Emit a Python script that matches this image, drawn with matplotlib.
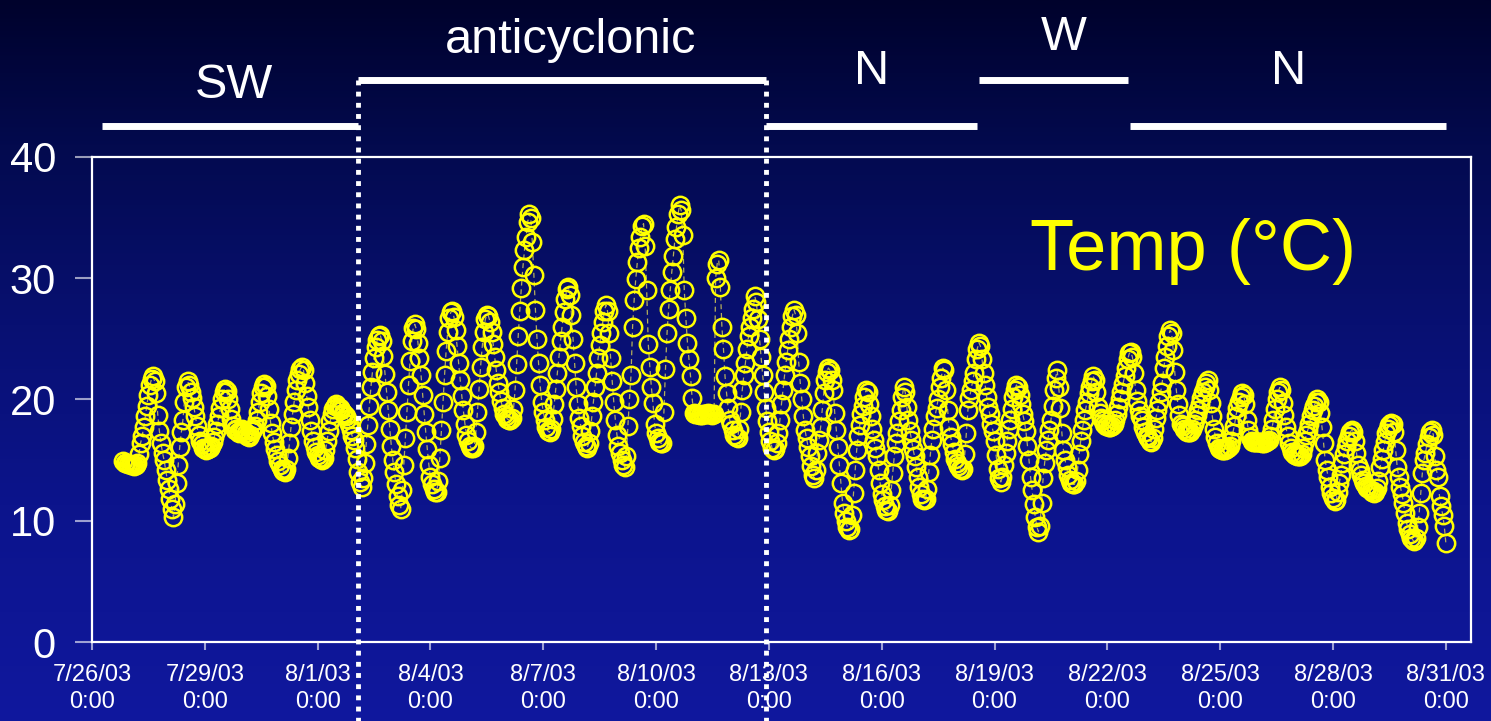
import datetime as dt
import numpy as np
import matplotlib
matplotlib.use("Agg")
import matplotlib.pyplot as plt
import matplotlib.dates as mdates
import matplotlib.transforms as mtransforms

plt.rcParams['font.family'] = ['Liberation Sans', 'DejaVu Sans']

# hourly temperature (deg C), first reading 7/26/03 20:00, one row per day
first_reading = dt.datetime(2003, 7, 26, 20)
hourly_temp = [
    [14.9, 14.8, 14.8, 14.7],  # 7/26 20h-23h
    [14.7, 14.6, 14.6, 14.5, 14.6, 14.8, 15.5, 16.4, 17.0, 17.7, 18.6, 19.5, 20.4, 21.2, 21.7, 21.9, 21.5, 20.5, 18.7, 17.4, 16.4, 15.6, 15.0, 14.2],
    [13.4, 12.6, 11.8, 11.0, 10.3, 11.4, 13.1, 14.6, 16.1, 17.3, 18.3, 19.8, 21.0, 21.5, 21.2, 20.6, 20.1, 19.4, 18.6, 17.8, 17.1, 16.6, 16.3, 16.0],
    [15.9, 15.8, 15.9, 16.0, 16.2, 16.5, 16.9, 17.4, 18.0, 18.6, 19.3, 20.0, 20.6, 20.9, 20.7, 20.0, 19.2, 18.4, 17.8, 17.5, 17.6, 17.3, 17.2, 17.5],
    [17.6, 17.4, 17.2, 17.0, 16.9, 17.1, 17.4, 17.6, 17.8, 18.3, 19.0, 19.8, 20.5, 21.0, 21.3, 21.1, 20.3, 19.2, 18.1, 17.2, 16.5, 15.9, 15.4, 14.9],
    [14.6, 14.3, 14.1, 14.0, 14.3, 15.2, 16.4, 17.7, 18.8, 19.8, 20.8, 21.6, 22.1, 22.5, 22.7, 22.4, 21.4, 20.3, 19.4, 18.3, 17.4, 16.6, 16.1, 15.7],
    [15.4, 15.2, 15.1, 15.0, 15.2, 15.8, 16.6, 17.4, 18.2, 18.8, 19.2, 19.5, 19.6, 19.4, 19.3, 19.1, 18.9, 18.8, 18.6, 18.4, 18.0, 17.5, 17.0, 16.7],
    [16.0, 15.1, 14.0, 13.2, 12.8, 13.5, 14.8, 16.3, 17.9, 19.5, 21.0, 22.3, 23.4, 24.3, 24.9, 25.2, 25.3, 24.8, 23.6, 22.1, 20.6, 19.1, 17.6, 16.2],
    [15.0, 14.0, 13.0, 12.0, 11.3, 11.0, 12.5, 14.6, 16.8, 19.0, 21.2, 23.2, 24.8, 25.9, 26.2, 25.8, 24.7, 23.4, 22.0, 20.4, 18.8, 17.3, 15.9, 14.6],
    [13.6, 13.0, 12.6, 12.4, 12.4, 13.3, 15.2, 17.5, 19.8, 22.0, 24.0, 25.6, 26.7, 27.2, 27.3, 26.8, 25.7, 24.4, 23.0, 21.6, 20.3, 19.1, 18.0, 17.1],
    [16.6, 16.2, 16.0, 16.0, 16.2, 17.3, 19.0, 20.9, 22.7, 24.3, 25.6, 26.6, 27.0, 26.9, 26.4, 25.6, 24.6, 23.5, 22.4, 21.4, 20.6, 19.9, 19.3, 18.8],
    [18.6, 18.4, 18.3, 18.3, 18.5, 19.2, 20.8, 22.9, 25.2, 27.3, 29.2, 30.9, 32.3, 33.4, 34.6, 35.3, 35.0, 33.0, 30.3, 27.4, 25.0, 23.0, 21.2, 19.8],
    [19.0, 18.3, 17.7, 17.4, 17.3, 17.6, 18.4, 19.6, 20.9, 22.2, 23.5, 24.8, 26.0, 27.2, 28.3, 29.1, 29.3, 28.6, 27.0, 25.0, 23.0, 21.0, 19.6, 18.5],
    [17.8, 17.0, 16.5, 16.2, 16.0, 16.4, 17.4, 18.6, 19.8, 21.0, 22.2, 23.4, 24.5, 25.5, 26.4, 27.3, 27.8, 27.3, 25.5, 23.4, 21.5, 19.8, 18.3, 17.1],
    [16.2, 15.6, 15.0, 14.6, 14.4, 15.3, 17.8, 20.0, 22.0, 26.0, 28.2, 29.9, 31.3, 32.5, 33.4, 34.3, 34.5, 32.7, 29.0, 24.6, 22.7, 21.0, 19.7, 18.0],
    [17.2, 16.8, 16.5, 16.4, 16.4, 19.0, 22.5, 25.5, 27.5, 29.0, 30.5, 31.8, 33.2, 34.2, 35.3, 36.0, 35.6, 33.6, 29.0, 26.7, 24.7, 23.3, 21.9, 20.1],
    [18.9, 18.8, 18.8, 18.8, 18.7, 18.7, 18.8, 18.8, 18.8, 18.9, 18.8, 18.8, 18.7, 18.8, 30.0, 31.2, 31.5, 29.3, 26.0, 24.2, 21.9, 20.5, 19.3, 18.3],
    [18.0, 17.5, 17.1, 16.9, 16.8, 17.6, 19.0, 20.8, 22.0, 23.0, 24.2, 25.2, 26.0, 26.7, 27.5, 28.5, 28.0, 26.6, 25.0, 23.5, 22.0, 20.6, 19.3, 18.2],
    [17.3, 16.6, 16.0, 15.8, 15.9, 16.4, 17.2, 18.3, 19.6, 20.8, 22.0, 23.1, 24.1, 25.0, 26.0, 26.9, 27.4, 27.0, 25.5, 23.1, 21.4, 20.0, 18.6, 17.5],
    [16.8, 16.1, 15.3, 14.5, 13.8, 13.5, 14.2, 15.6, 16.7, 17.7, 19.1, 20.5, 21.6, 22.3, 22.6, 22.4, 21.6, 20.8, 18.9, 17.5, 16.1, 14.6, 13.1, 11.5],
    [10.6, 10.0, 9.5, 9.2, 9.3, 10.5, 12.3, 14.2, 15.8, 17.0, 17.9, 18.8, 19.5, 20.2, 20.8, 20.6, 19.6, 18.6, 17.6, 16.7, 16.0, 15.3, 14.2, 13.1],
    [12.2, 11.7, 11.2, 10.9, 10.8, 11.3, 12.5, 13.9, 15.3, 16.4, 17.2, 18.2, 19.1, 20.2, 21.0, 20.6, 19.4, 18.3, 17.4, 16.7, 15.9, 15.3, 14.4, 13.6],
    [12.8, 12.2, 11.8, 11.7, 11.8, 12.6, 14.0, 15.4, 16.7, 17.6, 18.6, 19.3, 20.0, 21.0, 21.8, 22.6, 22.4, 20.8, 19.1, 17.7, 16.9, 16.3, 15.7, 15.1],
    [14.8, 14.5, 14.3, 14.2, 14.3, 15.5, 17.2, 19.1, 20.1, 20.8, 21.5, 22.2, 23.3, 24.2, 24.7, 24.4, 23.3, 22.2, 21.2, 20.2, 19.4, 18.8, 18.0, 17.4],
    [16.6, 15.4, 14.3, 13.5, 13.2, 13.6, 14.6, 15.6, 16.6, 17.6, 18.3, 19.2, 20.2, 20.8, 21.2, 21.0, 20.4, 19.6, 18.8, 18.2, 17.4, 16.2, 15.0, 13.6],
    [12.5, 11.4, 10.3, 9.5, 9.1, 9.6, 11.5, 13.5, 14.8, 15.8, 16.7, 17.5, 18.3, 19.5, 20.8, 21.8, 22.4, 21.0, 19.3, 17.2, 15.8, 15.0, 14.4, 13.8],
    [13.4, 13.1, 13.0, 13.0, 13.3, 14.2, 15.5, 16.6, 17.5, 18.3, 19.1, 19.8, 20.5, 21.0, 21.5, 21.9, 21.6, 20.6, 19.4, 18.9, 18.5, 18.3, 18.0, 17.8],
    [17.9, 17.7, 17.7, 17.8, 18.0, 18.3, 18.8, 19.4, 20.0, 20.6, 21.3, 21.9, 22.6, 23.3, 23.8, 23.9, 23.5, 22.2, 20.8, 19.9, 19.1, 18.6, 18.3, 17.7],
    [17.3, 17.0, 16.8, 16.6, 16.5, 16.8, 17.6, 18.5, 19.1, 19.8, 20.6, 21.4, 22.6, 23.5, 24.4, 25.2, 25.7, 25.5, 24.1, 22.3, 20.8, 19.6, 18.7, 18.0],
    [17.8, 17.6, 17.4, 17.3, 17.3, 17.3, 17.6, 18.0, 18.3, 18.7, 19.1, 19.6, 20.1, 20.6, 21.0, 21.4, 21.6, 20.8, 19.7, 18.6, 17.6, 16.9, 16.4, 16.0],
    [15.9, 15.8, 15.8, 15.8, 15.9, 16.0, 16.2, 16.6, 17.2, 17.8, 18.6, 19.3, 19.8, 20.2, 20.5, 20.4, 19.6, 18.3, 17.5, 16.9, 16.6, 16.5, 16.5, 16.5],
    [16.5, 16.5, 16.5, 16.4, 16.4, 16.5, 16.6, 16.7, 17.0, 17.6, 18.3, 19.2, 20.0, 20.6, 21.0, 20.8, 19.7, 18.7, 17.7, 17.0, 16.4, 16.0, 15.7, 15.5],
    [15.4, 15.3, 15.3, 15.3, 15.5, 16.0, 16.6, 17.1, 17.5, 18.0, 18.6, 19.1, 19.5, 19.8, 20.0, 19.8, 18.9, 17.7, 16.4, 15.0, 14.2, 13.6, 12.8, 12.3],
    [11.9, 11.6, 11.7, 12.4, 13.1, 13.8, 14.8, 15.5, 16.1, 16.6, 17.0, 17.3, 17.5, 17.3, 16.6, 15.6, 14.6, 14.2, 13.8, 13.4, 13.1, 12.9, 12.7, 12.6],
    [12.5, 12.4, 12.3, 12.4, 12.7, 13.3, 14.4, 15.1, 15.8, 16.5, 17.2, 17.6, 17.9, 18.1, 18.0, 17.3, 15.8, 14.4, 13.6, 12.8, 12.2, 11.5, 10.6, 9.8],
    [9.3, 8.9, 8.6, 8.4, 8.3, 8.6, 9.5, 10.6, 12.3, 13.9, 15.0, 15.6, 16.3, 16.9, 17.3, 17.5, 17.1, 15.3, 14.2, 13.6, 12.0, 11.2, 10.5, 9.6],
    [8.2],  # 8/31 0h
]

tick_labels = ['7/26/03', '7/29/03', '8/1/03', '8/4/03', '8/7/03', '8/10/03', '8/13/03',
               '8/16/03', '8/19/03', '8/22/03', '8/25/03', '8/28/03', '8/31/03']

# synoptic regimes along the top
regime_names = ['SW', 'anticyclonic', 'N', 'W', 'N']
regime_start = ['2003-07-26 06:20', '2003-08-02 01:45', '2003-08-12 22:20', '2003-08-18 14:10', '2003-08-22 14:30']
regime_end = ['2003-08-02 01:45', '2003-08-12 22:20', '2003-08-18 13:00', '2003-08-22 13:10', '2003-08-31 00:15']

# layout (pixels in the 1491x721 frame)
W, H = 1491, 721
bar_y = [126, 80, 126, 80, 126]
label_base = [98, 53, 84, 50, 84]
label_dx = [4, 8, 0, 10, 0]


def ypix(p):
    return 1 - p / H


temps = [v for day in hourly_temp for v in day]
times = [first_reading + dt.timedelta(hours=i) for i in range(len(temps))]

fig = plt.figure(figsize=(W / 100, H / 100), dpi=100)

# background gradient
bg = fig.add_axes([0, 0, 1, 1], zorder=-5)
stops = [0.0, 0.2, 0.45, 0.7, 1.0]
cols = np.array([[0x00, 0x02, 0x2c], [0x03, 0x0a, 0x4e], [0x08, 0x10, 0x72],
                 [0x0c, 0x14, 0x8c], [0x10, 0x18, 0x9e]]) / 255.0
yy = np.linspace(0, 1, 400)
grad = np.stack([np.interp(yy, stops, cols[:, k]) for k in range(3)], axis=1)
bg.imshow(grad[:, None, :], aspect='auto', extent=[0, 1, 1, 0])
bg.set_axis_off()

ax = fig.add_axes([92 / W, 79 / H, (1471 - 92) / W, (642 - 157) / H])
ax.set_facecolor('none')

ax.plot(times, temps, linestyle=(0, (4, 3)), color='#b4ae5a', lw=0.9,
        marker='o', mfc='none', mec='#ffff00', ms=12.5, mew=1.8, zorder=3)

ax.set_ylim(0, 40)
ax.set_yticks([0, 10, 20, 30, 40])
x0 = mdates.date2num(dt.datetime(2003, 7, 26))
ax.set_xlim(x0, x0 + 36.67)
tick_pos = [mdates.date2num(dt.datetime.strptime(t, '%m/%d/%y')) for t in tick_labels]
ax.set_xticks(tick_pos)
ax.set_xticklabels([t + '\n0:00' for t in tick_labels])
for lbl in ax.get_xticklabels():
    lbl.set_linespacing(1.3)

ax.tick_params(axis='y', length=12, width=1.5, color=(1, 1, 1, 0.6),
               labelsize=30, labelcolor='white', pad=14)
ax.tick_params(axis='x', length=6, width=1.5, color=(1, 1, 1, 0.6),
               labelsize=17, labelcolor='white', pad=10)
for s in ax.spines.values():
    s.set_color('white')
    s.set_linewidth(1.6)

trans = mtransforms.blended_transform_factory(ax.transData, fig.transFigure)
for name, s, e, by, lb, dx in zip(regime_names, regime_start, regime_end, bar_y, label_base, label_dx):
    xs = mdates.date2num(dt.datetime.strptime(s, '%Y-%m-%d %H:%M'))
    xe = mdates.date2num(dt.datetime.strptime(e, '%Y-%m-%d %H:%M'))
    ax.plot([xs, xe], [ypix(by), ypix(by)], transform=trans, clip_on=False,
            color='white', lw=5, solid_capstyle='butt', zorder=5)
    xm = (xs + xe) / 2 + dx / 37.6
    ax.text(xm, ypix(lb), name, transform=trans, ha='center', va='baseline',
            color='white', fontsize=35, clip_on=False)

# dotted borders of the anticyclonic period
for d in [regime_start[1], regime_end[1]]:
    xd = mdates.date2num(dt.datetime.strptime(d, '%Y-%m-%d %H:%M'))
    ax.plot([xd, xd], [ypix(80), 0], transform=trans, clip_on=False,
            color='white', lw=3.5, linestyle=(0, (1, 1.3)), zorder=6)

fig.text(1030 / W, ypix(270), 'Temp (\u00b0C)', color='#ffff00', fontsize=52,
         ha='left', va='baseline')

fig.savefig('out.png', dpi=100)
